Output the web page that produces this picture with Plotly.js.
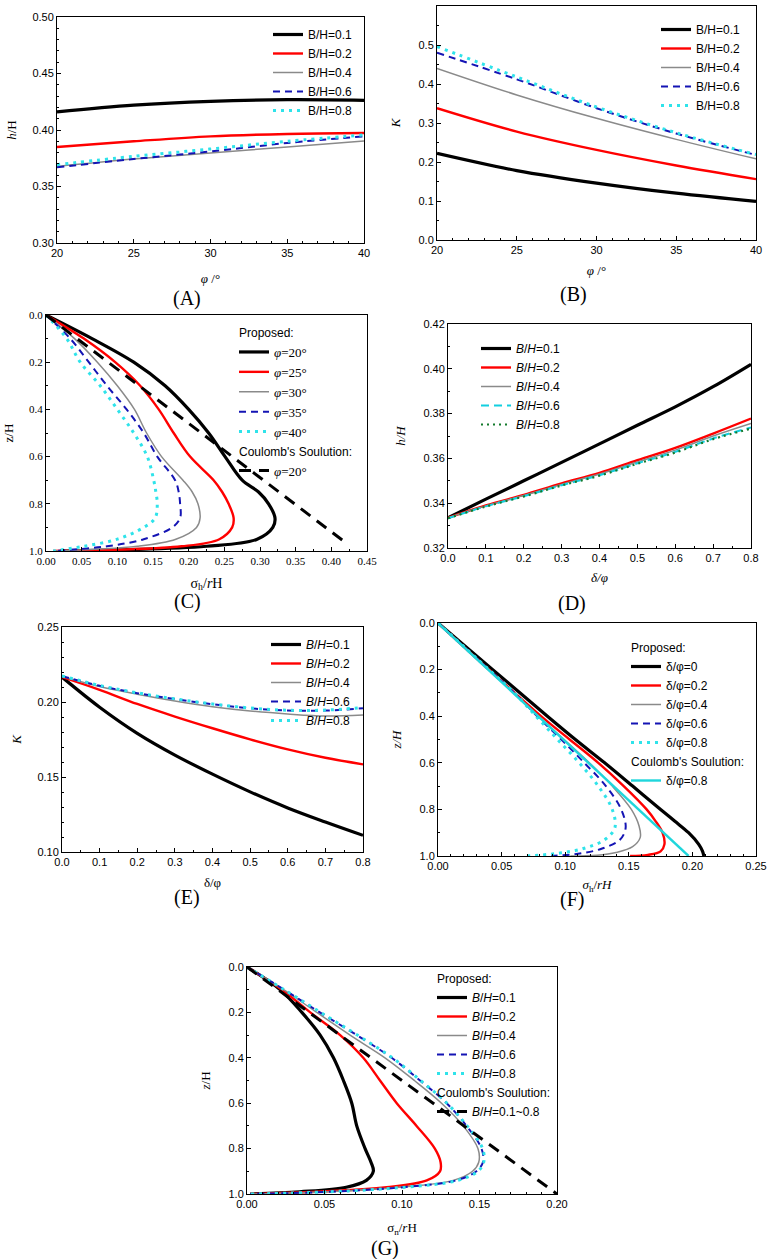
<!DOCTYPE html>
<html>
<head>
<meta charset="utf-8">
<script src="https://cdn.plot.ly/plotly-3.0.1.min.js"></script>
<style>body{margin:0;background:#fff}#fig{width:768px;height:1259px}</style>
</head>
<body>
<div id="fig"></div>
<script>
// values

// (A) h/H vs phi
let aPhi = [20, 25, 30, 35, 40];
let aBH01 = [0.416, 0.422, 0.4254, 0.4268, 0.4263];
let aBH02 = [0.385, 0.390, 0.3944, 0.3965, 0.3973];
let aBH04 = [0.3678, 0.3743, 0.3796, 0.3850, 0.3903];
let aBH06 = [0.3670, 0.3743, 0.3810, 0.3885, 0.3944];
let aBH08 = [0.3693, 0.3767, 0.3832, 0.3900, 0.3956];

// (B) K vs phi
let bPhi = [20, 25, 30, 35, 40];
let bBH01 = [0.222, 0.178, 0.146, 0.120, 0.099];
let bBH02 = [0.338, 0.278, 0.231, 0.191, 0.156];
let bBH04 = [0.440, 0.372, 0.312, 0.258, 0.208];
let bBH06 = [0.480, 0.412, 0.338, 0.273, 0.218];
let bBH08 = [0.496, 0.418, 0.341, 0.275, 0.219];

// (C) z/H vs sigma_h/rH for several phi
let cZ = [0, 0.1, 0.2, 0.3, 0.4, 0.5, 0.6, 0.7, 0.75, 0.8, 0.86, 0.9, 0.95, 0.98, 1.0];
let cPhi20 = [0, 0.0645, 0.123, 0.167, 0.200, 0.228, 0.251, 0.275, 0.298, 0.312, 0.321, 0.318, 0.296, 0.225, 0.02];
let cPhi25 = [0, 0.053, 0.097, 0.132, 0.158, 0.179, 0.202, 0.235, 0.247, 0.256, 0.263, 0.261, 0.243, 0.190, 0.01];
let cPhi30 = [0, 0.040, 0.072, 0.100, 0.124, 0.141, 0.162, 0.192, 0.205, 0.213, 0.216, 0.211, 0.182, 0.128, 0.01];
let cPhi35 = [0, 0.034, 0.060, 0.0855, 0.113, 0.137, 0.156, 0.181, 0.186, 0.188, 0.188, 0.177, 0.137, 0.0855, 0.01];
let cPhi40 = [0, 0.029, 0.048, 0.076, 0.100, 0.123, 0.142, 0.151, 0.154, 0.156, 0.153, 0.137, 0.100, 0.053, 0.01];
let cCoulZ = [0, 0.96];
let cCoul = [0, 0.418];

// (D) h/H vs delta/phi
let dX = [0, 0.1, 0.2, 0.3, 0.4, 0.5, 0.6, 0.7, 0.8];
let dBH01 = [0.3335, 0.3418, 0.3500, 0.3582, 0.3665, 0.3748, 0.3830, 0.3920, 0.4020];
let dBH02 = [0.3335, 0.3390, 0.3437, 0.3488, 0.3535, 0.3592, 0.3647, 0.3711, 0.3778];
let dBH04 = [0.3335, 0.3388, 0.3434, 0.3484, 0.3530, 0.3584, 0.3637, 0.3700, 0.3756];
let dBH06 = [0.3333, 0.3386, 0.3431, 0.3480, 0.3525, 0.3578, 0.3629, 0.3689, 0.3738];
let dBH08 = [0.3333, 0.3385, 0.3430, 0.3479, 0.3523, 0.3576, 0.3626, 0.3686, 0.3733];

// (E) K vs delta/phi
let eX = [0, 0.1, 0.2, 0.3, 0.4, 0.5, 0.6, 0.7, 0.8];
let eBH01 = [0.2166, 0.1965, 0.1791, 0.1646, 0.1519, 0.1401, 0.1294, 0.1200, 0.1111];
let eBH02 = [0.2166, 0.2081, 0.1987, 0.1903, 0.1825, 0.1751, 0.1684, 0.1628, 0.1584];
let eBH04 = [0.2170, 0.2103, 0.2052, 0.2007, 0.1969, 0.1940, 0.1920, 0.1907, 0.1914];
let eBH06 = [0.2172, 0.2108, 0.2059, 0.2019, 0.1985, 0.1958, 0.1943, 0.1943, 0.1958];
let eBH08 = [0.2174, 0.2110, 0.2061, 0.2021, 0.1987, 0.1960, 0.1945, 0.1946, 0.1963];

// (F) z/H vs sigma_h/rH for several delta/phi
let fZ0 = [0, 0.2, 0.4, 0.5, 0.6, 0.7, 0.8, 0.85, 0.9, 0.95, 0.98, 1.0];
let fD0 = [0, 0.043, 0.086, 0.108, 0.131, 0.153, 0.175, 0.186, 0.197, 0.205, 0.208, 0.209];
let fZ2 = [0, 0.2, 0.4, 0.6, 0.7, 0.8, 0.85, 0.9, 0.95, 0.98, 0.995, 1.0];
let fD2 = [0, 0.040, 0.081, 0.126, 0.146, 0.164, 0.171, 0.1765, 0.178, 0.175, 0.165, 0.151];
let fZ4 = [0, 0.2, 0.4, 0.6, 0.7, 0.8, 0.87, 0.92, 0.96, 0.985, 0.997, 1.0];
let fD4 = [0, 0.040, 0.079, 0.119, 0.137, 0.152, 0.158, 0.159, 0.153, 0.140, 0.125, 0.104];
let fZ68 = [0, 0.2, 0.3, 0.4, 0.5, 0.6, 0.7, 0.8, 0.88, 0.93, 0.97, 0.99, 1.0];
let fD6 = [0, 0.040, 0.060, 0.078, 0.097, 0.115, 0.132, 0.144, 0.1475, 0.143, 0.128, 0.110, 0.089];
let fD8 = [0, 0.040, 0.060, 0.077, 0.094, 0.111, 0.126, 0.137, 0.139, 0.131, 0.113, 0.092, 0.070];
let fCoulZ = [0, 1.0];
let fCoul = [0, 0.197];

// (G) z/H vs sigma_n/rH for several B/H
let gZ = [0, 0.1, 0.2, 0.3, 0.4, 0.5, 0.6, 0.7, 0.8, 0.86, 0.9, 0.94, 0.97, 0.99, 1.0];
let gBH01 = [0, 0.0215, 0.0354, 0.0472, 0.0558, 0.0622, 0.0676, 0.0708, 0.0762, 0.0800, 0.0815, 0.0770, 0.0640, 0.0340, 0.002];
let gBH02 = [0, 0.0225, 0.0408, 0.0601, 0.0750, 0.0858, 0.0966, 0.1094, 0.1212, 0.1249, 0.1245, 0.1160, 0.0900, 0.0450, 0.002];
let gBH04 = [0, 0.0236, 0.0450, 0.0665, 0.0890, 0.1080, 0.1255, 0.1395, 0.1490, 0.1495, 0.1455, 0.1330, 0.0987, 0.0515, 0.002];
let gBH06 = [0, 0.0240, 0.0470, 0.0708, 0.0933, 0.1116, 0.1288, 0.1416, 0.1513, 0.1522, 0.1480, 0.1350, 0.1010, 0.0536, 0.002];
let gBH08 = [0, 0.0240, 0.0475, 0.0712, 0.0938, 0.1120, 0.1290, 0.1420, 0.1520, 0.1527, 0.1490, 0.1360, 0.1020, 0.0540, 0.002];
let gCoulZ = [0, 1.0];
let gCoul = [0, 0.200];

// legend names
let bhPlain = ['B/H=0.1', 'B/H=0.2', 'B/H=0.4', 'B/H=0.6', 'B/H=0.8'];
let bhItalic = ['<i>B</i>/<i>H</i>=0.1', '<i>B</i>/<i>H</i>=0.2', '<i>B</i>/<i>H</i>=0.4', '<i>B</i>/<i>H</i>=0.6', '<i>B</i>/<i>H</i>=0.8'];
let phiNames = ['<i>φ</i>=20°', '<i>φ</i>=25°', '<i>φ</i>=30°', '<i>φ</i>=35°', '<i>φ</i>=40°'];
let dpNames = ['δ/φ=0', 'δ/φ=0.2', 'δ/φ=0.4', 'δ/φ=0.6', 'δ/φ=0.8'];

// ---- styles ----
const W = 768, H = 1259;
const SANS = 'Liberation Sans, Arial, sans-serif';
const SERIF = 'Liberation Serif, Times New Roman, serif';

let sBlack = {color: '#000000', width: 3.2, shape: 'spline'};
let sRed = {color: '#ff0000', width: 2.4, shape: 'spline'};
let sGray = {color: '#8a8a8a', width: 1.5, shape: 'spline'};
let sBlue = {color: '#1414b4', width: 2, dash: '7px,5px', shape: 'spline'};
let sCyan = {color: '#2fe3ea', width: 3, dash: '3px,5px', shape: 'spline'};
let sCoul = {color: '#000000', width: 3, dash: '12px,8px'};
let fiveStyles = [sBlack, sRed, sGray, sBlue, sCyan];

let traces = [];
function addLine(x, y, n, name, style, group, groupTitle) {
    let t = {
        type: 'scatter', mode: 'lines', x: x, y: y,
        xaxis: n === 1 ? 'x' : 'x' + n,
        yaxis: n === 1 ? 'y' : 'y' + n,
        legend: n === 1 ? 'legend' : 'legend' + n,
        name: name, line: style, hoverinfo: 'skip'
    };
    if (group) {
        t.legendgroup = group;
        t.legendgrouptitle = {text: groupTitle, font: {family: SANS, size: 12, color: '#000'}};
    }
    traces.push(t);
}

// (A)
[aBH01, aBH02, aBH04, aBH06, aBH08].forEach((v, i) => addLine(aPhi, v, 1, bhPlain[i], fiveStyles[i]));
// (B)
[bBH01, bBH02, bBH04, bBH06, bBH08].forEach((v, i) => addLine(bPhi, v, 2, bhPlain[i], fiveStyles[i]));
// (C)
[cPhi20, cPhi25, cPhi30, cPhi35, cPhi40].forEach((v, i) => addLine(v, cZ, 3, phiNames[i], fiveStyles[i], 'p3', 'Proposed:'));
addLine(cCoul, cCoulZ, 3, '<i>φ</i>=20°', sCoul, 'c3', "Coulomb's Soulution:");
// (D)
let dStyles = [sBlack, sRed, sGray,
    {color: '#12cfe0', width: 2, dash: '8px,5px', shape: 'spline'},
    {color: '#137a2c', width: 2.2, dash: '2px,4px', shape: 'spline'}];
[dBH01, dBH02, dBH04, dBH06, dBH08].forEach((v, i) => addLine(dX, v, 4, bhItalic[i], dStyles[i]));
// (E)
[eBH01, eBH02, eBH04, eBH06, eBH08].forEach((v, i) => addLine(eX, v, 5, bhItalic[i], fiveStyles[i]));
// (F)
addLine(fD0, fZ0, 6, dpNames[0], sBlack, 'p6', 'Proposed:');
addLine(fD2, fZ2, 6, dpNames[1], sRed, 'p6', 'Proposed:');
addLine(fD4, fZ4, 6, dpNames[2], sGray, 'p6', 'Proposed:');
addLine(fD6, fZ68, 6, dpNames[3], sBlue, 'p6', 'Proposed:');
addLine(fD8, fZ68, 6, dpNames[4], sCyan, 'p6', 'Proposed:');
addLine(fCoul, fCoulZ, 6, dpNames[4], {color: '#1fd6dc', width: 2.4}, 'c6', "Coulomb's Soulution:");
// (G)
[gBH01, gBH02, gBH04, gBH06, gBH08].forEach((v, i) => addLine(v, gZ, 7, bhItalic[i], fiveStyles[i], 'p7', 'Proposed:'));
addLine(gCoul, gCoulZ, 7, '<i>B</i>/<i>H</i>=0.1~0.8', sCoul, 'c7', "Coulomb's Soulution:");

// ---- axes ----
function ax(px0, px1, letter, range, dtick, fmt, minorDt, anchor, title, standoff, tickFamily, titleSize) {
    let dom = letter === 'x' ? [px0 / W, px1 / W] : [1 - px1 / H, 1 - px0 / H];
    return {
        domain: dom, range: range, anchor: anchor,
        tick0: 0, dtick: dtick, tickformat: fmt,
        ticks: 'inside', ticklen: 4, tickwidth: 1, tickcolor: '#000',
        minor: {ticks: 'inside', ticklen: 2, dtick: minorDt, tickcolor: '#000'},
        showline: true, linecolor: '#000', linewidth: 1, mirror: true,
        showgrid: false, zeroline: false, fixedrange: true,
        tickfont: {family: tickFamily || SANS, size: 11, color: '#000'},
        title: {text: title, standoff: standoff, font: {family: SERIF, size: titleSize || 13, color: '#000'}}
    };
}

function leg(px, py, family, size) {
    return {
        x: px / W, y: 1 - py / H, xanchor: 'left', yanchor: 'top',
        bgcolor: 'rgba(0,0,0,0)', borderwidth: 0, itemwidth: 30,
        traceorder: 'grouped', tracegroupgap: 0,
        font: {family: family, size: size, color: '#000'}
    };
}

let layout = {
    width: W, height: H,
    margin: {l: 0, r: 0, t: 0, b: 0},
    paper_bgcolor: '#fff', plot_bgcolor: '#fff',
    showlegend: true,

    xaxis: ax(57, 364, 'x', [20, 40], 5, 'd', 1, 'y', '<i>φ</i> /°', 15),
    yaxis: ax(17, 243, 'y', [0.30, 0.50], 0.05, '.2f', 0.01, 'x', '<i>h</i>/H', 12),

    xaxis2: ax(437, 756, 'x', [20, 40], 5, 'd', 1, 'y2', '<i>φ</i> /°', 10),
    yaxis2: ax(6, 240, 'y', [0, 0.6], 0.1, '.1f', 0.05, 'x2', '<i>K</i>', 14),

    xaxis3: ax(46, 367, 'x', [0, 0.45], 0.05, '.2f', 0.025, 'y3', 'σ<sub>h</sub>/<i>r</i>H', 11, SERIF, 14),
    yaxis3: ax(315, 551, 'y', [1, 0], 0.2, '.1f', 0.1, 'x3', 'z/H', 12, SERIF),

    xaxis4: ax(448, 751, 'x', [0, 0.8], 0.1, '.1f', 0.05, 'y4', '<i>δ/φ</i>', 9),
    yaxis4: ax(324, 548, 'y', [0.32, 0.42], 0.02, '.2f', 0.01, 'x4', '<i>h/H</i>', 14),

    xaxis5: ax(62, 363, 'x', [0, 0.8], 0.1, '.1f', 0.05, 'y5', 'δ/φ', 10),
    yaxis5: ax(627, 852, 'y', [0.10, 0.25], 0.05, '.2f', 0.01, 'x5', '<i>K</i>', 12),

    xaxis6: ax(438, 756, 'x', [0, 0.25], 0.05, '.2f', 0.01, 'y6', '<i>σ</i><sub>h</sub>/<i>rH</i>', 8),
    yaxis6: ax(623, 856, 'y', [1, 0], 0.2, '.1f', 0.1, 'x6', '<i>z/H</i>', 14),

    xaxis7: ax(247, 557, 'x', [0, 0.20], 0.05, '.2f', 0.01, 'y7', 'σ<sub>n</sub>/<i>r</i>H', 13),
    yaxis7: ax(967, 1194, 'y', [1, 0], 0.2, '.1f', 0.1, 'x7', '<i>z</i>/H', 14),

    legend: leg(268, 20, SANS, 12),
    legend2: leg(656, 15, SANS, 12),
    legend3: leg(234, 318, SERIF, 13),
    legend4: leg(476, 334, SANS, 12),
    legend5: leg(266, 630, SANS, 12),
    legend6: leg(626, 633, SANS, 12),
    legend7: leg(432, 964, SANS, 12),

    annotations: []
};

// panel letters
let panelLabels = ['(A)', '(B)', '(C)', '(D)', '(E)', '(F)', '(G)'];
let panelPos = [[187, 298], [573, 294], [187, 601], [572, 603], [187, 897], [572, 899], [385, 1248]];
panelLabels.forEach((t, i) => {
    layout.annotations.push({
        text: t, xref: 'paper', yref: 'paper',
        x: panelPos[i][0] / W, y: 1 - panelPos[i][1] / H,
        xanchor: 'center', yanchor: 'middle', showarrow: false,
        font: {family: SERIF, size: 20, color: '#000'}
    });
});

Plotly.newPlot('fig', traces, layout, {staticPlot: true, displayModeBar: false});
</script>
</body>
</html>
